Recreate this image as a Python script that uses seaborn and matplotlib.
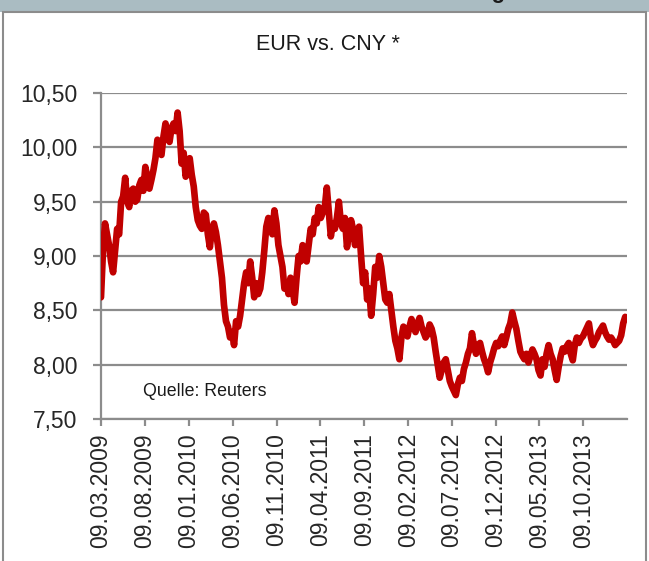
import numpy as np
import pandas as pd
import matplotlib
matplotlib.use("Agg")
import matplotlib.pyplot as plt
import matplotlib.dates as mdates
from matplotlib.patches import Rectangle
from matplotlib.ticker import FuncFormatter
import seaborn as sns

# EUR/CNY, weekly readings from 09.03.2009
start = "2009-03-09"
eur_cny = [
    8.62, 9.05, 9.30, 9.20, 9.10, 8.95, 8.85, 9.05, 9.25, 9.20,
    9.50, 9.55, 9.72, 9.50, 9.45, 9.60, 9.62, 9.50, 9.52, 9.65,
    9.70, 9.60, 9.82, 9.72, 9.62, 9.70, 9.79, 9.90, 10.07, 9.95,
    9.93, 10.10, 10.22, 10.10, 10.05, 10.18, 10.22, 10.15, 10.32, 10.15,
    9.85, 9.95, 9.73, 9.80, 9.90, 9.75, 9.64, 9.45, 9.33, 9.28,
    9.25, 9.40, 9.38, 9.20, 9.08, 9.25, 9.30, 9.22, 9.10, 8.95,
    8.80, 8.55, 8.40, 8.35, 8.25, 8.30, 8.18, 8.40, 8.35, 8.45,
    8.60, 8.75, 8.85, 8.75, 8.95, 8.80, 8.62, 8.75, 8.65, 8.70,
    8.85, 9.05, 9.27, 9.35, 9.30, 9.20, 9.42, 9.30, 9.10, 9.00,
    8.90, 8.70, 8.75, 8.65, 8.80, 8.70, 8.57, 8.80, 9.00, 8.95,
    9.10, 9.05, 8.95, 9.10, 9.25, 9.20, 9.35, 9.30, 9.45, 9.35,
    9.40, 9.45, 9.63, 9.40, 9.18, 9.30, 9.25, 9.35, 9.50, 9.30,
    9.25, 9.35, 9.08, 9.20, 9.33, 9.25, 9.10, 9.20, 9.27, 9.00,
    8.75, 8.85, 8.60, 8.70, 8.45, 8.65, 8.90, 8.80, 9.00, 8.90,
    8.75, 8.60, 8.57, 8.65, 8.50, 8.35, 8.22, 8.15, 8.05, 8.25,
    8.35, 8.30, 8.26, 8.35, 8.42, 8.36, 8.30, 8.38, 8.43, 8.35,
    8.30, 8.25, 8.28, 8.37, 8.33, 8.25, 8.12, 8.00, 7.88, 7.95,
    8.02, 8.05, 7.95, 7.85, 7.80, 7.76, 7.72, 7.82, 7.88, 7.85,
    7.96, 8.02, 8.10, 8.15, 8.29, 8.18, 8.10, 8.18, 8.20, 8.12,
    8.05, 8.00, 7.93, 8.02, 8.08, 8.15, 8.20, 8.17, 8.22, 8.26,
    8.18, 8.25, 8.33, 8.38, 8.48, 8.40, 8.33, 8.22, 8.12, 8.08,
    8.05, 8.10, 8.02, 8.08, 8.14, 8.10, 8.05, 7.95, 7.90, 8.05,
    7.98, 8.10, 8.18, 8.10, 8.05, 7.95, 7.86, 7.98, 8.08, 8.15,
    8.12, 8.17, 8.20, 8.10, 8.04, 8.18, 8.25, 8.20, 8.24, 8.26,
    8.30, 8.34, 8.38, 8.25, 8.18, 8.22, 8.25, 8.30, 8.33, 8.36,
    8.30, 8.26, 8.23, 8.25, 8.22, 8.18, 8.20, 8.22, 8.27, 8.38,
    8.44,
]
tick_dates = ["2009-03-09", "2009-08-09", "2010-01-09", "2010-06-09", "2010-11-09",
              "2011-04-09", "2011-09-09", "2012-02-09", "2012-07-09", "2012-12-09",
              "2013-05-09", "2013-10-09"]
y_ticks = [7.5, 8.0, 8.5, 9.0, 9.5, 10.0, 10.5]

df = pd.DataFrame({
    "Datum": pd.date_range(start, periods=len(eur_cny), freq="7D"),
    "Kurs": eur_cny,
})

sns.set_style("white")
plt.rcParams["font.family"] = ["Liberation Sans", "DejaVu Sans"]

fig = plt.figure(figsize=(6.49, 5.61), dpi=100)
ax = fig.add_axes([0.1556, 0.2531, 0.8104, 0.5811])

grey = "#8c8c8c"
sns.lineplot(data=df, x="Datum", y="Kurs", color="#c00000", linewidth=4.8, ax=ax,
             solid_capstyle="round", solid_joinstyle="round", zorder=3)

ax.set_xlim(pd.Timestamp("2009-03-09"), pd.Timestamp("2014-03-09"))
ax.set_ylim(7.5, 10.5)
ax.set_yticks(y_ticks)
ax.yaxis.set_major_formatter(FuncFormatter(lambda v, p: f"{v:.2f}".replace(".", ",")))
ax.set_xticks(pd.to_datetime(tick_dates))
ax.xaxis.set_major_formatter(mdates.DateFormatter("%d.%m.%Y"))
ax.set_xlabel("")
ax.set_ylabel("")

ax.yaxis.grid(True, color=grey, linewidth=1.6)
ax.xaxis.grid(False)
for s in ["top", "right"]:
    ax.spines[s].set_visible(False)
for s in ["left", "bottom"]:
    ax.spines[s].set_color(grey)
    ax.spines[s].set_linewidth(1.6)
ax.tick_params(axis="y", length=6, width=1.6, color=grey, pad=11, labelsize=16.5,
               left=True)
ax.tick_params(axis="x", length=5, width=1.6, color=grey, pad=5, labelsize=16.5,
               rotation=90, bottom=True)

ax.text(0.08, 0.083, "Quelle: Reuters", transform=ax.transAxes, fontsize=12.8,
        va="center", ha="left", color="#1a1a1a")

fig.text(0.505, 0.92, "EUR vs. CNY *", ha="center", va="center", fontsize=15.5,
         color="#1a1a1a")

# header band and frame
fig.patches.append(Rectangle((0, 1 - 12 / 561), 1, 12 / 561, transform=fig.transFigure,
                             facecolor="#aabcc2", edgecolor="none", zorder=0))
fig.patches.append(Rectangle((3 / 649, -0.01), 643 / 649, (549 / 561) + 0.01,
                             transform=fig.transFigure, fill=False,
                             edgecolor=grey, linewidth=1.5, zorder=1))
fig.text(0.78, 1 + 2 / 561, "Wechselkursentwicklung", ha="right", va="baseline",
         fontsize=16, fontweight="bold", color="#1a1a1a")

fig.savefig("out.png", dpi=100)
